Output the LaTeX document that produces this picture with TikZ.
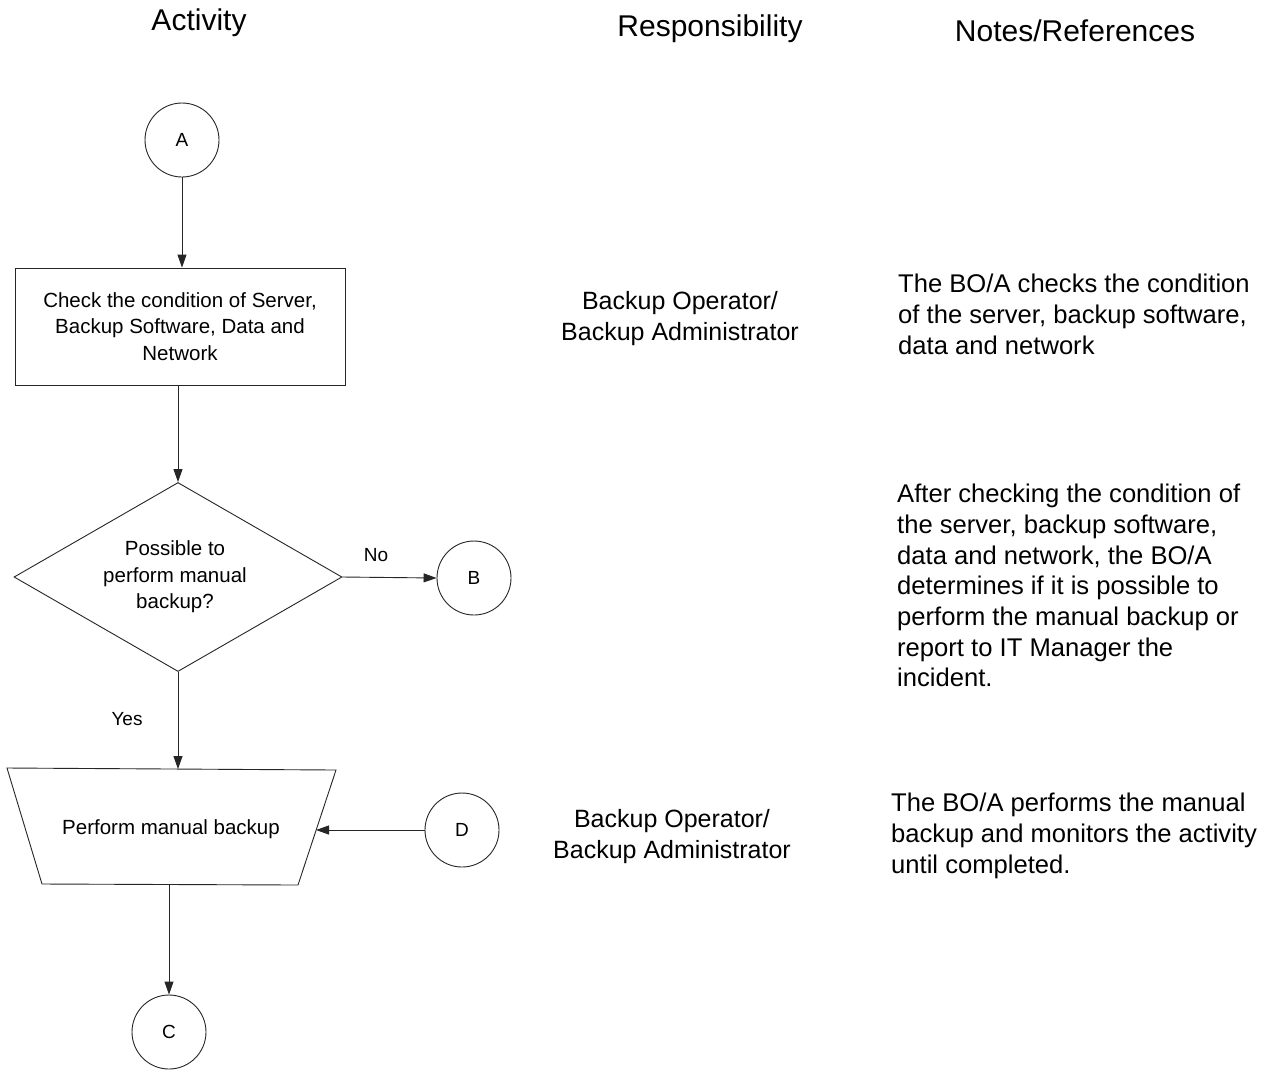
\documentclass[tikz,border=0pt]{standalone}
\usepackage{fontspec}
\setmainfont{Liberation Sans}
\usetikzlibrary{arrows.meta,shapes.geometric}
\begin{document}
\begin{tikzpicture}[x=1pt,y=-1pt,
  ln/.style={draw=black!85,line width=0.9pt},
  arr/.style={ln,-{Triangle[length=13pt,width=9pt]}},
  conn/.style={circle,ln,minimum size=74pt,inner sep=0pt,font=\fontsize{19}{21}\selectfont},
  head/.style={anchor=north,inner sep=0pt,font=\fontsize{30}{34}\selectfont},
  resp/.style={anchor=north,inner sep=0pt,align=center,font=\fontsize{25}{31}\selectfont},
  note/.style={anchor=north west,inner sep=0pt,align=left,font=\fontsize{25.6}{30.7}\selectfont},
  shapetxt/.style={align=center,inner sep=0pt,font=\fontsize{20.5}{26.5}\selectfont},
  lbl/.style={inner sep=0pt,font=\fontsize{19}{22}\selectfont}]
\useasboundingbox[fill=white] (0,0) rectangle (1263,1072);

% headings
\node[head] (h1) at (199,9) {Activity};
\node[head] (h2) at (710,15) {Responsibility};
\node[head] (h3) at (1075,20) {Notes/References};

% flow
\node[conn] (A) at (182,140) {A};
\node[rectangle,ln,minimum width=330pt,minimum height=117pt,shapetxt] (box) at (180,326.5)
  {Check the condition of Server,\\Backup Software, Data and\\Network};
\node[diamond,ln,minimum width=328pt,minimum height=189pt,inner sep=0pt] (dia) at (178,577) {};
\node[shapetxt] (diatxt) at (175,577) {Possible to\\perform manual\\backup?};
\node[conn] (B) at (474,578) {B};
\node[lbl] (no) at (376,555) {No};
\node[lbl] (yes) at (127,719) {Yes};

\coordinate (tl) at (7,768);
\coordinate (tr) at (336,770);
\coordinate (br) at (298,885);
\coordinate (bl) at (42,884);
\draw[ln] (tl) -- (tr) -- (br) -- (bl) -- cycle;
\node[shapetxt] (trap) at (171,829) {Perform manual backup};
\coordinate (trtop) at (178,769);
\coordinate (trright) at (316,830);
\coordinate (trbot) at (169,884.5);
\node[conn] (D) at (462,830) {D};
\node[conn] (C) at (169,1032) {C};

\draw[arr] (A.south) -- (A.south |- box.north);
\draw[arr] (dia.north |- box.south) -- (dia.north);
\draw[arr] (dia.east) -- (B.west);
\draw[arr] (dia.south) -- (trtop);
\draw[arr] (D.west) -- (trright);
\draw[arr] (trbot) -- (C.north);

% responsibility
\node[resp] (r1) at (680,291) {Backup Operator/\\Backup Administrator};
\node[resp] (r2) at (672,809) {Backup Operator/\\Backup Administrator};

% notes
\node[note] (n1) at (898,274) {The BO/A checks the condition\\of the server, backup software,\\data and network};
\node[note] (n2) at (897,484) {After checking the condition of\\the server, backup software,\\data and network, the BO/A\\determines if it is possible to\\perform the manual backup or\\report to IT Manager the\\incident.};
\node[note] (n3) at (891,793) {The BO/A performs the manual\\backup and monitors the activity\\until completed.};
\end{tikzpicture}
\end{document}
